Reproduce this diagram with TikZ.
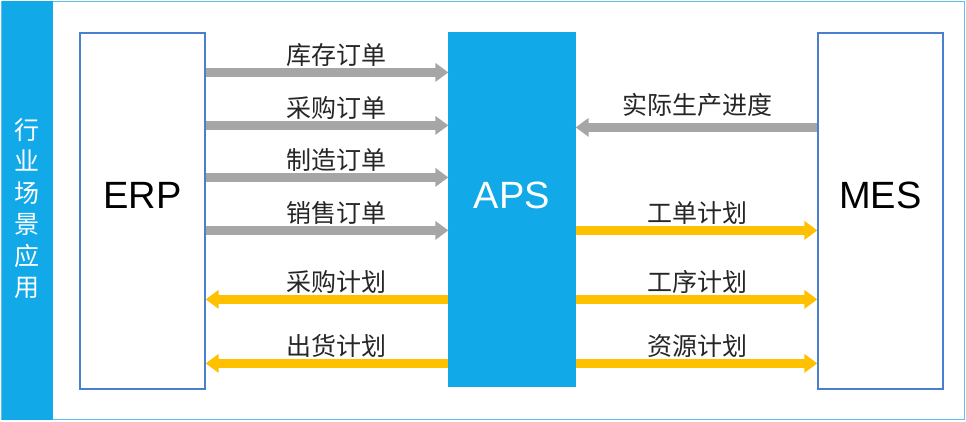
\documentclass[tikz,border=0pt]{standalone}
\usepackage{fontspec}
\setmainfont{Liberation Sans}
\newfontfamily\cjkfont{Noto Sans CJK SC}
\usetikzlibrary{arrows.meta}

\definecolor{apsblue}{HTML}{12A9E9}
\definecolor{boxline}{HTML}{4A7FCF}
\definecolor{frameblue}{HTML}{5CC0EC}
\definecolor{flowgray}{HTML}{A6A6A6}
\definecolor{flowgold}{HTML}{FFC000}

\begin{document}
\begin{tikzpicture}[x=1pt, y=1pt,
    sysbox/.style={draw=boxline, line width=1.2pt, minimum width=125pt, minimum height=356pt, inner sep=0pt},
    systext/.style={font=\fontsize{38}{40}\selectfont, inner sep=0pt, yshift=16pt},
    grayflow/.style={draw=flowgray, line width=9pt, -{Triangle[length=13pt,width=18pt]}},
    goldflow/.style={draw=flowgold, line width=9pt, -{Triangle[length=13pt,width=18pt]}},
    flowlabel/.style={font=\cjkfont\fontsize{25}{25}\selectfont, text=black!85, inner sep=0pt}]
    \useasboundingbox (0,0) rectangle (966,421);
    % frame and side strip
    \draw [frameblue, line width=1.5pt] (1.5,1.5) rectangle (964.5,419.5);
    \fill [apsblue] (1.5,1.5) rectangle (53,419.5);
    \node (scene) at (27,212.5) [text=white, font=\cjkfont\fontsize{25}{31.5}\selectfont, align=center, inner sep=0pt] {行\\业\\场\\景\\应\\用};

    % systems
    \node (erp) at (142.5,210) [sysbox, label={[systext]center:ERP}] {};
    \node (aps) at (512,211.5) [sysbox, fill=apsblue, draw=apsblue, minimum width=126pt, minimum height=353pt, label={[systext, text=white, yshift=-1.5pt]center:APS}] {};
    \node (mes) at (880.5,210) [sysbox, label={[systext]center:MES}] {};

    % ERP -> APS
    \draw [grayflow] ([yshift=-40pt]erp.north east) -- ([yshift=-40pt]aps.north west) node [flowlabel, midway, xshift=9pt, yshift=17pt] {库存订单};
    \draw [grayflow] ([yshift=-93pt]erp.north east) -- ([yshift=-93pt]aps.north west) node [flowlabel, midway, xshift=9pt, yshift=17pt] {采购订单};
    \draw [grayflow] ([yshift=-145pt]erp.north east) -- ([yshift=-145pt]aps.north west) node [flowlabel, midway, xshift=9pt, yshift=17pt] {制造订单};
    \draw [grayflow] ([yshift=-198pt]erp.north east) -- ([yshift=-198pt]aps.north west) node [flowlabel, midway, xshift=9pt, yshift=17pt] {销售订单};
    % APS -> ERP
    \draw [goldflow] ([yshift=-267pt]aps.north west) -- ([yshift=-267pt]erp.north east) node [flowlabel, midway, xshift=9pt, yshift=17pt] {采购计划};
    \draw [goldflow] ([yshift=-331pt]aps.north west) -- ([yshift=-331pt]erp.north east) node [flowlabel, midway, xshift=9pt, yshift=17pt] {出货计划};

    % MES <-> APS
    \draw [grayflow] ([yshift=-95pt]mes.north west) -- ([yshift=-95pt]aps.north east) node [flowlabel, midway, xshift=1pt, yshift=22pt] {实际生产进度};
    \draw [goldflow] ([yshift=-198pt]aps.north east) -- ([yshift=-198pt]mes.north west) node [flowlabel, midway, xshift=1pt, yshift=17pt] {工单计划};
    \draw [goldflow] ([yshift=-267pt]aps.north east) -- ([yshift=-267pt]mes.north west) node [flowlabel, midway, xshift=1pt, yshift=17pt] {工序计划};
    \draw [goldflow] ([yshift=-331pt]aps.north east) -- ([yshift=-331pt]mes.north west) node [flowlabel, midway, xshift=1pt, yshift=17pt] {资源计划};
\end{tikzpicture}
\end{document}
